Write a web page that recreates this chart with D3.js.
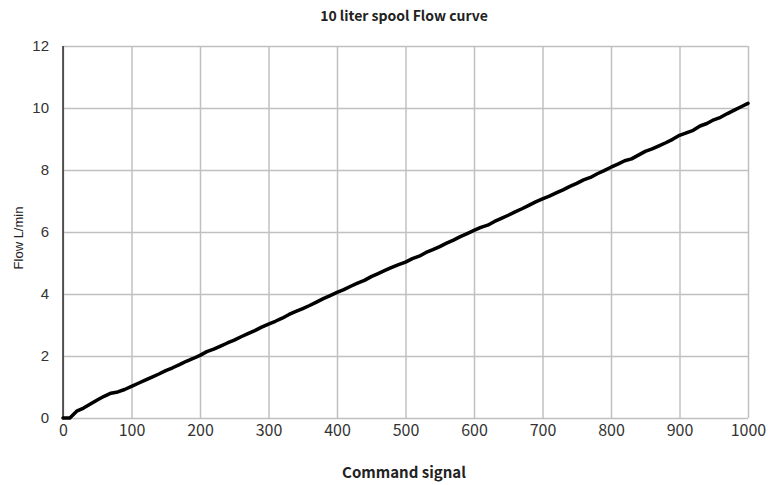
<!DOCTYPE html>
<html>
<head>
<meta charset="utf-8">
<script src="https://cdn.jsdelivr.net/npm/d3@7"></script>
<style>
  html, body { margin: 0; padding: 0; background: #fff; }
  svg { display: block; }
</style>
</head>
<body>
<svg id="chart" width="768" height="485"></svg>
<script>
// Command signal (x) and measured flow in L/min (y)
const signal = [0, 10, 20, 30, 40, 50, 60, 70, 80, 90,
  100, 110, 120, 130, 140, 150, 160, 170, 180, 190,
  200, 210, 220, 230, 240, 250, 260, 270, 280, 290,
  300, 310, 320, 330, 340, 350, 360, 370, 380, 390,
  400, 410, 420, 430, 440, 450, 460, 470, 480, 490,
  500, 510, 520, 530, 540, 550, 560, 570, 580, 590,
  600, 610, 620, 630, 640, 650, 660, 670, 680, 690,
  700, 710, 720, 730, 740, 750, 760, 770, 780, 790,
  800, 810, 820, 830, 840, 850, 860, 870, 880, 890,
  900, 910, 920, 930, 940, 950, 960, 970, 980, 990, 1000];
const flow = [0, 0, 0.22, 0.32, 0.45, 0.58, 0.70, 0.80, 0.84, 0.92,
  1.02, 1.12, 1.22, 1.32, 1.42, 1.53, 1.62, 1.72, 1.83, 1.92,
  2.02, 2.14, 2.22, 2.32, 2.42, 2.51, 2.62, 2.72, 2.82, 2.93,
  3.03, 3.12, 3.22, 3.34, 3.44, 3.53, 3.63, 3.74, 3.85, 3.95,
  4.05, 4.14, 4.25, 4.35, 4.44, 4.56, 4.66, 4.76, 4.86, 4.95,
  5.03, 5.14, 5.22, 5.34, 5.43, 5.53, 5.64, 5.74, 5.85, 5.95,
  6.05, 6.15, 6.22, 6.34, 6.44, 6.54, 6.65, 6.75, 6.86, 6.97,
  7.07, 7.16, 7.26, 7.36, 7.47, 7.57, 7.68, 7.76, 7.88, 7.98,
  8.09, 8.19, 8.30, 8.36, 8.48, 8.60, 8.68, 8.78, 8.88, 8.99,
  9.12, 9.20, 9.28, 9.42, 9.50, 9.62, 9.70, 9.82, 9.93, 10.04, 10.15];

const xTicks = [0, 100, 200, 300, 400, 500, 600, 700, 800, 900, 1000];
const yTicks = [0, 2, 4, 6, 8, 10, 12];

const titleText = "10 liter spool Flow curve";
const xTitle = "Command signal";
const yTitle = "Flow L/min";

const svg = d3.select("#chart");
const plot = { left: 63, right: 748, top: 46, bottom: 418 };

const x = d3.scaleLinear().domain([0, 1000]).range([plot.left, plot.right]);
const y = d3.scaleLinear().domain([0, 12]).range([plot.bottom, plot.top]);

const gridColor = "#c0c0c0";
const cjk = "'Noto Sans CJK JP', 'Noto Sans', sans-serif";
const arial = "'Liberation Sans', Arial, sans-serif";

// vertical grid
svg.append("g").attr("transform", `translate(0,${plot.bottom})`)
  .call(d3.axisBottom(x).tickValues(xTicks).tickSize(-(plot.bottom - plot.top)).tickFormat(""))
  .call(g => g.select(".domain").remove())
  .call(g => g.selectAll("line").attr("stroke", gridColor).attr("stroke-width", 1.5));

// horizontal grid
svg.append("g").attr("transform", `translate(${plot.left},0)`)
  .call(d3.axisLeft(y).tickValues(yTicks).tickSize(-(plot.right - plot.left)).tickFormat(""))
  .call(g => g.select(".domain").remove())
  .call(g => g.selectAll("line").attr("stroke", gridColor).attr("stroke-width", 1.5));

// left axis line
svg.append("line")
  .attr("x1", plot.left).attr("x2", plot.left)
  .attr("y1", plot.top).attr("y2", plot.bottom)
  .attr("stroke", "#000").attr("stroke-width", 1.2);

// y tick labels
svg.append("g").attr("transform", `translate(${plot.left},0)`)
  .call(d3.axisLeft(y).tickValues(yTicks).tickSize(0).tickPadding(14).tickFormat(d3.format("d")))
  .call(g => g.select(".domain").remove())
  .call(g => g.selectAll("text")
    .attr("font-family", arial)
    .attr("font-size", 15).attr("fill", "#333"));

// x tick labels
svg.append("g").attr("transform", `translate(0,${plot.bottom})`)
  .call(d3.axisBottom(x).tickValues(xTicks).tickSize(0).tickPadding(7).tickFormat(d3.format("d")))
  .call(g => g.select(".domain").remove())
  .call(g => g.selectAll("text")
    .attr("font-family", cjk)
    .attr("font-size", 16).attr("fill", "#333"));

// flow curve
const line = d3.line().x((d, i) => x(signal[i])).y(d => y(d));
svg.append("path")
  .datum(flow)
  .attr("d", line)
  .attr("fill", "none")
  .attr("stroke", "#000")
  .attr("stroke-width", 3.5)
  .attr("stroke-linejoin", "round")
  .attr("stroke-linecap", "round");

// titles
svg.append("text")
  .attr("x", 404).attr("y", 21)
  .attr("text-anchor", "middle")
  .attr("font-family", cjk)
  .attr("font-weight", "bold")
  .attr("font-size", 14)
  .attr("fill", "#222")
  .text(titleText);

svg.append("text")
  .attr("x", 404).attr("y", 478)
  .attr("text-anchor", "middle")
  .attr("font-family", cjk)
  .attr("font-weight", "bold")
  .attr("font-size", 15)
  .attr("fill", "#222")
  .text(xTitle);

svg.append("text")
  .attr("transform", "translate(23,238) rotate(-90)")
  .attr("text-anchor", "middle")
  .attr("font-family", arial)
  .attr("font-size", 13)
  .attr("fill", "#222")
  .text(yTitle);
</script>
</body>
</html>
